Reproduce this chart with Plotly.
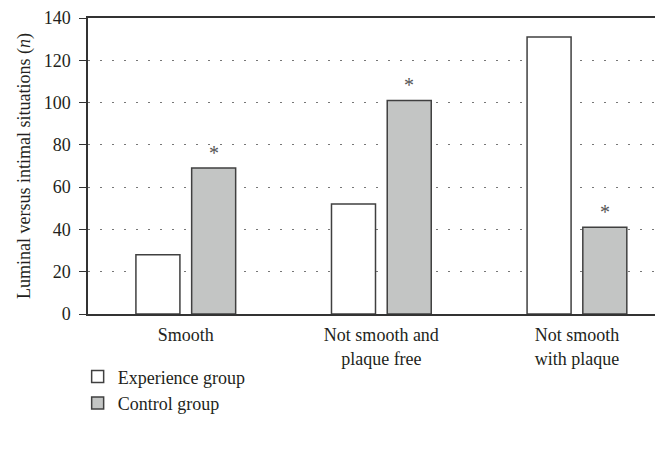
import plotly.graph_objects as go

categories = ["Smooth", "Not smooth and<br>plaque free", "Not smooth<br>with plaque"]
experience = [28, 52, 131]
control = [69, 101, 41]
significant = [True, True, True]
y_ticks = [0, 20, 40, 60, 80, 100, 120, 140]

FONT = "Liberation Serif"
TXT = "#231f20"
xs = list(range(len(categories)))

fig = go.Figure()
fig.add_trace(go.Bar(
    x=xs, y=experience, name="Experience group",
    width=0.225, offset=-0.255,
    marker=dict(color="white", line=dict(color="#404040", width=1.5)),
))
fig.add_trace(go.Bar(
    x=xs, y=control, name="Control group",
    width=0.225, offset=0.03,
    marker=dict(color="#c3c5c4", line=dict(color="#404040", width=1.5)),
))

for i, (v, s) in enumerate(zip(control, significant)):
    if s:
        fig.add_annotation(x=i + 0.1425, y=v, text="*", showarrow=False,
                           yanchor="bottom", yshift=2,
                           font=dict(family=FONT, size=20, color="#555555"))

fig.update_layout(
    width=655, height=441,
    margin=dict(l=80, r=0, t=6, b=135),
    paper_bgcolor="white", plot_bgcolor="white",
    font=dict(family=FONT, size=18, color=TXT),
    showlegend=True,
    legend=dict(x=-0.018, y=-0.15, xanchor="left", yanchor="top",
                font=dict(family=FONT, size=18, color=TXT),
                bgcolor="rgba(0,0,0,0)", itemwidth=30),
    xaxis=dict(
        range=[-0.5, 2.44], tickvals=xs, ticktext=categories,
        showline=True, linecolor="#333333", linewidth=1.5, mirror=True,
        showgrid=False, ticks="", zeroline=False, ticklabelstandoff=4,
        tickfont=dict(family=FONT, size=18, color=TXT),
    ),
    yaxis=dict(
        range=[0, 140], tickvals=y_ticks,
        showline=True, linecolor="#333333", linewidth=1.5,
        ticks="outside", ticklen=7, tickcolor="#333333", tickwidth=1.2,
        ticklabelstandoff=5, ticklabeloverflow="allow",
        showgrid=True, gridcolor="#777777", gridwidth=1, griddash="2px,10px",
        zeroline=False,
        tickfont=dict(family=FONT, size=18, color=TXT),
        title=dict(text="Luminal versus intimal situations (<i>n</i>)",
                   font=dict(family=FONT, size=18, color=TXT), standoff=8),
    ),
)

fig.write_html("out.html")
